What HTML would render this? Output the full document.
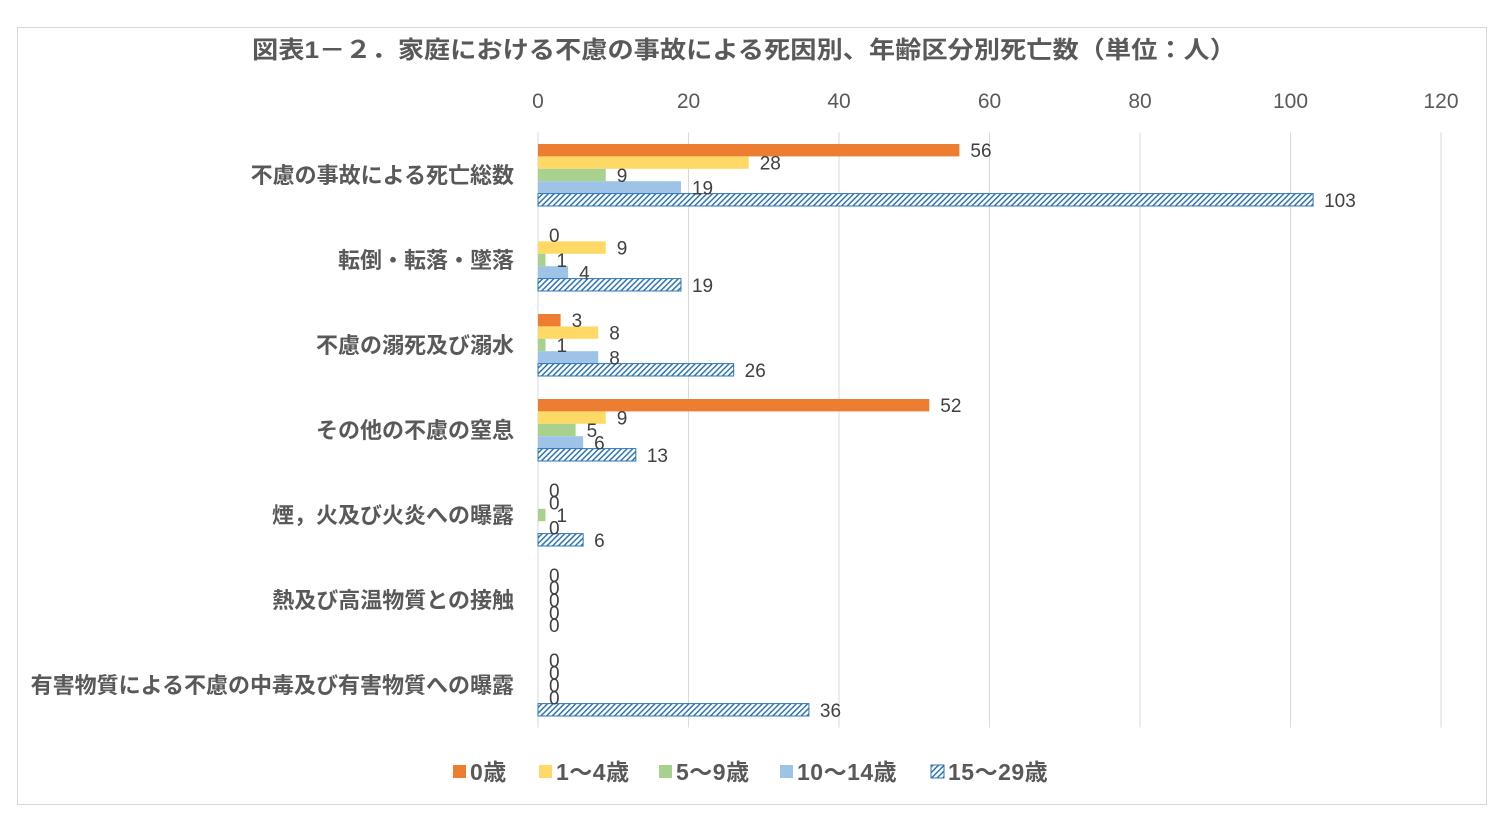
<!DOCTYPE html>
<html><head><meta charset="utf-8"><style>
body{margin:0;background:#fff;width:1504px;height:817px;overflow:hidden;font-family:"Liberation Sans","Noto Sans CJK JP",sans-serif}
</style></head><body>
<svg id="chart" width="1504" height="817" xmlns="http://www.w3.org/2000/svg" font-family="'Liberation Sans','Noto Sans CJK JP',sans-serif">
<defs>
<pattern id="hatch" width="4" height="4" patternUnits="userSpaceOnUse" patternTransform="rotate(45)">
<rect width="4" height="4" fill="#fff"/><rect width="1.5" height="4" fill="#2E75B6"/>
</pattern>
</defs>
<rect x="17.5" y="27.5" width="1469" height="777" fill="#fff" stroke="#d9d9d9"/>
<text x="252" y="58" textLength="984" lengthAdjust="spacingAndGlyphs" font-size="24" font-weight="bold" fill="#595959">図表1－２．家庭における不慮の事故による死因別、年齢区分別死亡数（単位：人）</text>
<g id="grid"></g><g id="bars"></g><g id="labels"></g>
<g id="legend"></g>
</svg>
<script>
const categories=["不慮の事故による死亡総数","転倒・転落・墜落","不慮の溺死及び溺水","その他の不慮の窒息","煙，火及び火炎への曝露","熱及び高温物質との接触","有害物質による不慮の中毒及び有害物質への曝露"];
const seriesNames=["0歳","1～4歳","5～9歳","10～14歳","15～29歳"];
const s0=[56,0,3,52,0,0,0];
const s1=[28,9,8,9,0,0,0];
const s2=[9,1,1,5,1,0,0];
const s3=[19,4,8,6,0,0,0];
const s4=[103,19,26,13,6,0,36];
const tickLabels=[0,20,40,60,80,100,120];
const series=[s0,s1,s2,s3,s4];
const colors=["#ED7D31","#FFD966","#A9D18E","#9DC3E6","url(#hatch)"];
const ns="http://www.w3.org/2000/svg";
const X0=538,X1=1441,XMAX=120,Y0=132.5,BAND=85,BH=12.4;
const x=v=>X0+(X1-X0)*v/XMAX;
function mk(t,a,p){const e=document.createElementNS(ns,t);for(const k in a)e.setAttribute(k,a[k]);p.appendChild(e);return e;}
const grid=document.getElementById('grid'),bars=document.getElementById('bars'),labels=document.getElementById('labels'),legend=document.getElementById('legend');
tickLabels.forEach(t=>{
 const l=mk('line',{x1:x(t),x2:x(t),y1:Y0,y2:Y0+BAND*categories.length,stroke:'#d9d9d9','stroke-width':1},grid);
 
 
 const tx=mk('text',{x:x(t),y:108,'text-anchor':'middle','font-size':21,fill:'#595959'},grid);
 tx.textContent=t;
 
 
});
categories.forEach((c,i)=>{
 const cy=Y0+BAND*i+BAND/2;
 const ct=mk('text',{x:514,y:cy+8,'text-anchor':'end','font-size':22,'font-weight':'bold',fill:'#595959'},labels);
 ct.textContent=c;
 
 
 series.forEach((s,j)=>{
  const v=s[i];const by=cy-31+j*BH;
  if(v>0){
   const r=mk('rect',{x:X0,y:by,width:x(v)-X0,height:BH,fill:colors[j]},bars);
   if(j===4){r.setAttribute('stroke','#2E75B6');r.setAttribute('stroke-width','1');}
   
   
  }
  const t=mk('text',{x:x(v)+11,y:by+BH/2+7,'font-size':19,fill:'#404040'},labels);
  if(v===0)t.setAttribute('x',x(0)+11);
  t.textContent=v;
  
  
 });
});
const lx=[453,539,659,780,931];
seriesNames.forEach((n,j)=>{
 const r=mk('rect',{x:lx[j],y:765,width:13,height:13,fill:colors[j]},legend);
 if(j===4){r.setAttribute('stroke','#2E75B6');}
 
 
 const t=mk('text',{x:lx[j]+17,y:780,'font-size':23,'font-weight':'bold','letter-spacing':'0.5',fill:'#595959'},legend);
 t.textContent=n;
 
 
});
</script>
</body></html>
